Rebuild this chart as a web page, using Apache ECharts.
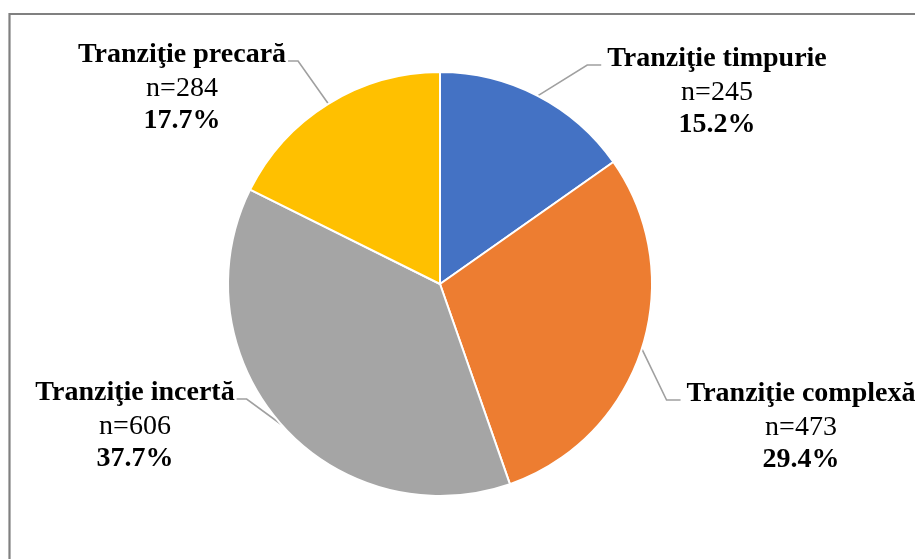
<!DOCTYPE html>
<html><head><meta charset="utf-8">
<script src="https://cdn.jsdelivr.net/npm/echarts@6/dist/echarts.min.js"></script>
<style>html,body{margin:0;padding:0;background:#fff}#c{width:915px;height:559px}</style>
</head><body><div id="c"></div>
<script>
// ---- data ----
const categories = ['Tranziţie timpurie', 'Tranziţie complexă', 'Tranziţie incertă', 'Tranziţie precară'];
const counts = [245, 473, 606, 284];
const colors = ['#4472C4', '#ED7D31', '#A5A5A5', '#FFC000'];

// ---- layout (label block anchors: centre x, title centre y) ----
const labelAnchors = [[717, 59], [801, 394], [135, 393], [182, 55]];
const FONT = '"Liberation Serif", "Times New Roman", serif';
const FS = 28;
const TLH = 36;
const LH = 32;

const total = counts.reduce((a, b) => a + b, 0);
const cvs = document.createElement('canvas').getContext('2d');
function titleWidth(t) { cvs.font = 'bold ' + FS + 'px ' + FONT; return cvs.measureText(t).width; }

const chart = echarts.init(document.getElementById('c'), null, {renderer: 'canvas'});
const PIE_CX = 440;
chart.setOption({
  animation: false,
  backgroundColor: '#fff',
  graphic: [{
    type: 'rect', silent: true,
    shape: {x: 9.5, y: 14, width: 1000, height: 1000},
    style: {fill: 'none', stroke: '#808080', lineWidth: 2.2}
  }],
  series: [{
    type: 'pie',
    center: [PIE_CX, 284],
    radius: 212,
    startAngle: 90,
    clockwise: true,
    avoidLabelOverlap: false,
    emphasis: {disabled: true},
    itemStyle: {borderColor: '#fff', borderWidth: 2},
    data: categories.map((c, i) => ({name: c, value: counts[i], itemStyle: {color: colors[i]}})),
    label: {
      show: true,
      position: 'outside',
      color: '#000',
      fontFamily: FONT,
      formatter: p => '{t|' + p.name + '}\n{n|n=' + p.value + '}\n{p|' + (p.value / total * 100).toFixed(1) + '%}',
      rich: {
        t: {fontFamily: FONT, fontSize: FS, fontWeight: 'bold', lineHeight: TLH, color: '#000'},
        n: {fontFamily: FONT, fontSize: FS, fontWeight: 'normal', lineHeight: LH, color: '#000'},
        p: {fontFamily: FONT, fontSize: FS, fontWeight: 'bold', lineHeight: LH, color: '#000'}
      }
    },
    labelLine: {
      show: true, length: 20, length2: 15,
      minTurnAngle: 0, maxSurfaceAngle: 180,
      lineStyle: {color: '#A0A0A0', width: 1.6}
    },
    labelLayout: function (p) {
      const i = p.dataIndex;
      const a = labelAnchors[i];
      const tw = titleWidth(categories[i]);
      const isLeft = a[0] < PIE_CX;
      const ly = a[1] + 6;
      const endX = isLeft ? a[0] + tw / 2 + 2 : a[0] - tw / 2 - 6;
      const elbowX = isLeft ? endX + 10 : endX - 14;
      const pts = p.labelLinePoints;
      const res = {x: a[0], y: a[1] - TLH / 2, align: 'center', verticalAlign: 'top'};
      if (pts) res.labelLinePoints = [pts[0], [elbowX, ly], [endX, ly]];
      return res;
    }
  }]
});
</script>
</body></html>
